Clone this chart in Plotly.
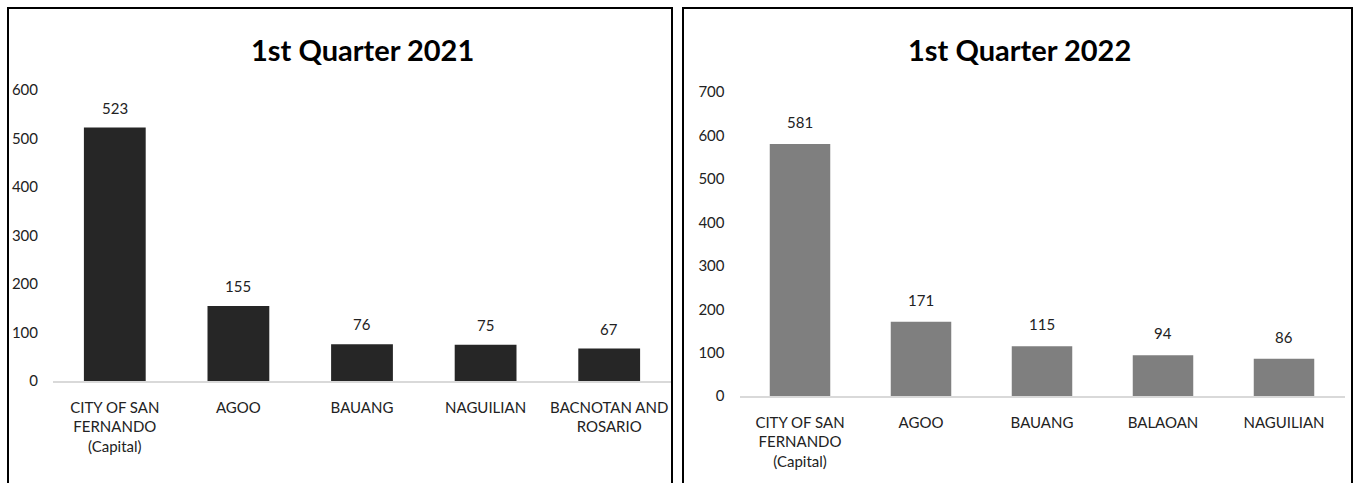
import plotly.graph_objects as go

W, H = 1355, 483

cats_2021 = ["CITY OF SAN<br>FERNANDO<br>(Capital)", "AGOO", "BAUANG", "NAGUILIAN", "BACNOTAN AND<br>ROSARIO"]
vals_2021 = [523, 155, 76, 75, 67]
cats_2022 = ["CITY OF SAN<br>FERNANDO<br>(Capital)", "AGOO", "BAUANG", "BALAOAN", "NAGUILIAN"]
vals_2022 = [581, 171, 115, 94, 86]
title_2021 = "1st Quarter 2021"
title_2022 = "1st Quarter 2022"
ticks_2021 = [0, 100, 200, 300, 400, 500, 600]
ticks_2022 = [0, 100, 200, 300, 400, 500, 600, 700]

FONT = "Lato"
TXT = "#222222"

# the viewer shows the page with a slight vertical squeeze (measured: shown = 0.96*y + 10)
SY, OY = 0.96, 10.0

def px_x(p):
    return p / W

def px_y(t):
    fy = (t - OY) / SY
    return (H - fy) / H

fig = go.Figure()
fig.add_trace(go.Bar(x=cats_2021, y=vals_2021, marker=dict(color="#262626", line=dict(width=0)),
                     xaxis="x", yaxis="y", showlegend=False, hoverinfo="skip"))
fig.add_trace(go.Bar(x=cats_2022, y=vals_2022, marker=dict(color="#7f7f7f", line=dict(width=0)),
                     xaxis="x2", yaxis="y2", showlegend=False, hoverinfo="skip"))

annotations = []
for c, v in zip(cats_2021, vals_2021):
    annotations.append(dict(x=c, y=v, xref="x", yref="y", text=str(v), showarrow=False,
                            yshift=20, font=dict(family=FONT, size=15, color=TXT)))
for c, v in zip(cats_2022, vals_2022):
    annotations.append(dict(x=c, y=v, xref="x2", yref="y2", text=str(v), showarrow=False,
                            yshift=22, font=dict(family=FONT, size=15, color=TXT)))
annotations.append(dict(x=px_x(362), y=px_y(49), xref="paper", yref="paper", text="<b>%s</b>" % title_2021,
                        showarrow=False, xanchor="center", yanchor="middle",
                        font=dict(family=FONT, size=29, color="#000000")))
annotations.append(dict(x=px_x(1019), y=px_y(49), xref="paper", yref="paper", text="<b>%s</b>" % title_2022,
                        showarrow=False, xanchor="center", yanchor="middle",
                        font=dict(family=FONT, size=29, color="#000000")))

shapes = [
    dict(type="rect", xref="paper", yref="paper", x0=px_x(8), x1=px_x(672), y0=-0.2, y1=px_y(8),
         line=dict(color="#000000", width=2), fillcolor="rgba(0,0,0,0)"),
    dict(type="rect", xref="paper", yref="paper", x0=px_x(683), x1=px_x(1352), y0=-0.2, y1=px_y(8),
         line=dict(color="#000000", width=2), fillcolor="rgba(0,0,0,0)"),
]

xcommon = dict(type="category", showgrid=False, zeroline=False, showline=True, linecolor="#d9d9d9",
               linewidth=1.5, ticks="", tickfont=dict(family=FONT, size=15, color=TXT), ticklabelstandoff=12,
               fixedrange=True)
ycommon = dict(showgrid=False, zeroline=False, showline=False, ticks="",
               tickfont=dict(family=FONT, size=15, color=TXT), ticklabelstandoff=14, fixedrange=True)

fig.update_layout(
    width=W, height=H,
    autosize=False,
    margin=dict(l=0, r=0, t=0, b=0),
    paper_bgcolor="white", plot_bgcolor="white",
    bargap=0.5,
    xaxis=dict(domain=[px_x(53), px_x(671)], anchor="y", **xcommon),
    yaxis=dict(domain=[px_y(380), px_y(90)], anchor="x", range=[0, 600], tickvals=ticks_2021, **ycommon),
    xaxis2=dict(domain=[px_x(739.5), px_x(1344.5)], anchor="y2", **xcommon),
    yaxis2=dict(domain=[px_y(395), px_y(92)], anchor="x2", range=[0, 700], tickvals=ticks_2022, **ycommon),
    annotations=annotations,
    shapes=shapes,
)

post = ("document.documentElement.style.margin='0';document.documentElement.style.padding='0';"
        "document.documentElement.style.overflow='hidden';"
        "document.body.style.margin='0';document.body.style.padding='0';document.body.style.overflow='hidden';")

fig.write_html("out.html", config={"displayModeBar": False, "responsive": False}, post_script=post)
